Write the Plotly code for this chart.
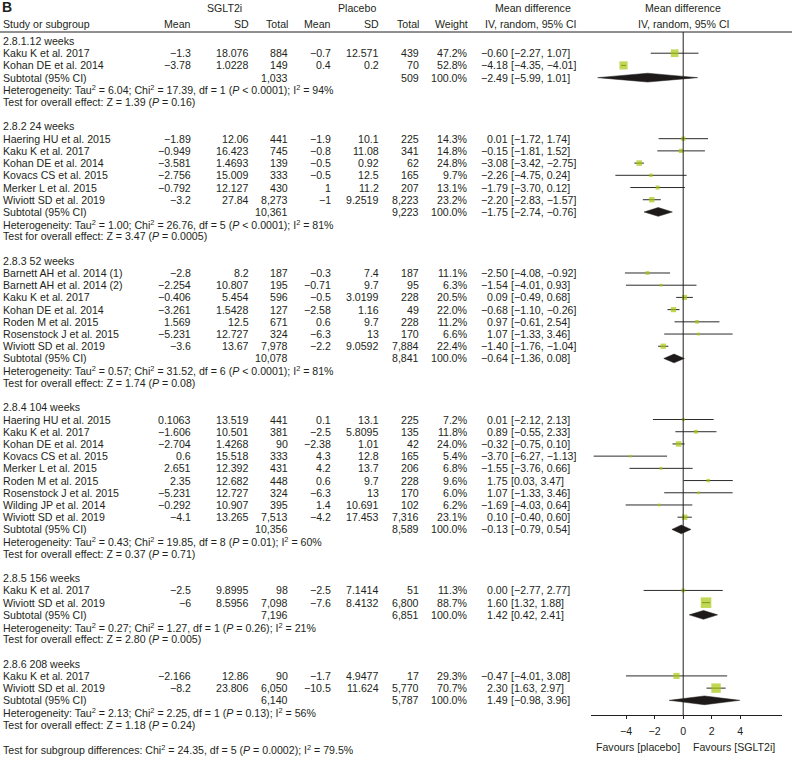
import plotly.graph_objects as go

# forest plot: SGLT2i vs placebo, mean difference by follow-up
groups = ['2.8.1.12 weeks', '2.8.2 24 weeks', '2.8.3 52 weeks',
          '2.8.4 104 weeks', '2.8.5 156 weeks', '2.8.6 208 weeks']

grp = [0, 0,
       1, 1, 1, 1, 1, 1,
       2, 2, 2, 2, 2, 2, 2,
       3, 3, 3, 3, 3, 3, 3, 3, 3,
       4, 4,
       5, 5]
study = ['Kaku K et al. 2017', 'Kohan DE et al. 2014',
         'Haering HU et al. 2015', 'Kaku K et al. 2017', 'Kohan DE et al. 2014',
         'Kovacs CS et al. 2015', 'Merker L et al. 2015', 'Wiviott SD et al. 2019',
         'Barnett AH et al. 2014 (1)', 'Barnett AH et al. 2014 (2)', 'Kaku K et al. 2017',
         'Kohan DE et al. 2014', 'Roden M et al. 2015', 'Rosenstock J et al. 2015',
         'Wiviott SD et al. 2019',
         'Haering HU et al. 2015', 'Kaku K et al. 2017', 'Kohan DE et al. 2014',
         'Kovacs CS et al. 2015', 'Merker L et al. 2015', 'Roden M et al. 2015',
         'Rosenstock J et al. 2015', 'Wilding JP et al. 2014', 'Wiviott SD et al. 2019',
         'Kaku K et al. 2017', 'Wiviott SD et al. 2019',
         'Kaku K et al. 2017', 'Wiviott SD et al. 2019']
mean_sglt = [-1.3, -3.78,
             -1.89, -0.949, -3.581, -2.756, -0.792, -3.2,
             -2.8, -2.254, -0.406, -3.261, 1.569, -5.231, -3.6,
             0.1063, -1.606, -2.704, 0.6, 2.651, 2.35, -5.231, -0.292, -4.1,
             -2.5, -6,
             -2.166, -8.2]
sd_sglt = [18.076, 1.0228,
           12.06, 16.423, 1.4693, 15.009, 12.127, 27.84,
           8.2, 10.807, 5.454, 1.5428, 12.5, 12.727, 13.67,
           13.519, 10.501, 1.4268, 15.518, 12.392, 12.682, 12.727, 10.907, 13.265,
           9.8995, 8.5956,
           12.86, 23.806]
n_sglt = [884, 149,
          441, 745, 139, 333, 430, 8273,
          187, 195, 596, 127, 671, 324, 7978,
          441, 381, 90, 333, 431, 448, 324, 395, 7513,
          98, 7098,
          90, 6050]
mean_plac = [-0.7, 0.4,
             -1.9, -0.8, -0.5, -0.5, 1, -1,
             -0.3, -0.71, -0.5, -2.58, 0.6, -6.3, -2.2,
             0.1, -2.5, -2.38, 4.3, 4.2, 0.6, -6.3, 1.4, -4.2,
             -2.5, -7.6,
             -1.7, -10.5]
sd_plac = [12.571, 0.2,
           10.1, 11.08, 0.92, 12.5, 11.2, 9.2519,
           7.4, 9.7, 3.0199, 1.16, 9.7, 13, 9.0592,
           13.1, 5.8095, 1.01, 12.8, 13.7, 9.7, 13, 10.691, 17.453,
           7.1414, 8.4132,
           4.9477, 11.624]
n_plac = [439, 70,
          225, 341, 62, 165, 207, 8223,
          187, 95, 228, 49, 228, 170, 7884,
          225, 135, 42, 165, 206, 228, 170, 102, 7316,
          51, 6800,
          17, 5770]
weight = [47.2, 52.8,
          14.3, 14.8, 24.8, 9.7, 13.1, 23.2,
          11.1, 6.3, 20.5, 22.0, 11.2, 6.6, 22.4,
          7.2, 11.8, 24.0, 5.4, 6.8, 9.6, 6.0, 6.2, 23.1,
          11.3, 88.7,
          29.3, 70.7]
md = [-0.60, -4.18,
      0.01, -0.15, -3.08, -2.26, -1.79, -2.20,
      -2.50, -1.54, 0.09, -0.68, 0.97, 1.07, -1.40,
      0.01, 0.89, -0.32, -3.70, -1.55, 1.75, 1.07, -1.69, 0.10,
      0.00, 1.60,
      -0.47, 2.30]
ci_lo = [-2.27, -4.35,
         -1.72, -1.81, -3.42, -4.75, -3.70, -2.83,
         -4.08, -4.01, -0.49, -1.10, -0.61, -1.33, -1.76,
         -2.12, -0.55, -0.75, -6.27, -3.76, 0.03, -1.33, -4.03, -0.40,
         -2.77, 1.32,
         -4.01, 1.63]
ci_hi = [1.07, -4.01,
         1.74, 1.52, -2.75, 0.24, 0.12, -1.57,
         -0.92, 0.93, 0.68, -0.26, 2.54, 3.46, -1.04,
         2.13, 2.33, 0.10, -1.13, 0.66, 3.47, 3.46, 0.64, 0.60,
         2.77, 1.88,
         3.08, 2.97]

sub_n_sglt = [1033, 10361, 10078, 10356, 7196, 6140]
sub_n_plac = [509, 9223, 8841, 8589, 6851, 5787]
sub_md = [-2.49, -1.75, -0.64, -0.13, 1.42, 1.49]
sub_lo = [-5.99, -2.74, -1.36, -0.79, 0.42, -0.98]
sub_hi = [1.01, -0.76, 0.08, 0.54, 2.41, 3.96]
tau2 = ['6.04', '1.00', '0.57', '0.43', '0.27', '2.13']
chi2 = ['17.39', '26.76', '31.52', '19.85', '1.27', '2.25']
het_df = [1, 5, 6, 8, 1, 1]
het_p = ['&lt; 0.0001', '&lt; 0.0001', '&lt; 0.0001', '= 0.01', '= 0.26', '= 0.13']
i2 = [94, 81, 81, 60, 21, 56]
z_val = ['1.39', '3.47', '1.74', '0.37', '2.80', '1.18']
z_p = ['0.16', '0.0005', '0.08', '0.71', '0.005', '0.24']

x_ticks = [-4, -2, 0, 2, 4]

W, H = 792, 759
ROW0, PITCH = 41, 12.21          # pixel centre of first row, row spacing
X0, XSCALE = 683.2, 14.28         # pixel of zero, px per unit
AX_L, AX_R, AX_Y = 591, 782, 715  # x-axis line
FONT = 'Liberation Sans, Arial, sans-serif'
FS = 10.6
TXT = '#231f20'
GREEN = '#a6c80c'


def py(px):
    return (px - ROW0) / PITCH


def fnum(v):
    return f'{v:g}'.replace('-', '−')


def f2(v):
    return f'{v:.2f}'.replace('-', '−')


ann = []


def txt(s, xpx, row, anchor='left', size=FS, bold=False):
    pad = {'left': -2, 'right': 2, 'center': 0}[anchor]
    if bold:
        s = '<b>' + s + '</b>'
    ann.append(dict(text=s, x=(xpx + pad) / W, xref='paper', y=row, yref='y',
                    xanchor=anchor, yanchor='middle', showarrow=False,
                    font=dict(family=FONT, size=size, color=TXT)))


# columns (pixel positions)
C_STUDY = 3
C_M1, C_SD1, C_N1 = 191, 249, 288
C_M2, C_SD2, C_N2 = 331, 379, 419
C_W, C_MD, C_CI = 468, 508, 511

# header
txt('B', 2, py(7), size=14, bold=True)
txt('SGLT2i', 224, py(8), 'center')
txt('Placebo', 357, py(8), 'center')
txt('Mean difference', 533, py(8), 'center')
txt('Mean difference', 683, py(8), 'center')
txt('Study or subgroup', C_STUDY, py(23.5))
for s, c in [('Mean', C_M1), ('SD', C_SD1), ('Total', C_N1), ('Mean', C_M2),
             ('SD', C_SD2), ('Total', C_N2), ('Weight', C_W)]:
    txt(s, c, py(23.5), 'right')
txt('IV, random, 95% CI', 530, py(23.5), 'center')
txt('IV, random, 95% CI', 683, py(23.5), 'center')

# rows
wx, wy, sx, sy, ss = [], [], [], [], []
dx, dy = [], []
r = 0
for g, name in enumerate(groups):
    txt(name, C_STUDY, r)
    r += 1
    for i in [k for k in range(len(study)) if grp[k] == g]:
        txt(study[i], C_STUDY, r)
        txt(fnum(mean_sglt[i]), C_M1, r, 'right')
        txt(fnum(sd_sglt[i]), C_SD1, r, 'right')
        txt(f'{n_sglt[i]:,}', C_N1, r, 'right')
        txt(fnum(mean_plac[i]), C_M2, r, 'right')
        txt(fnum(sd_plac[i]), C_SD2, r, 'right')
        txt(f'{n_plac[i]:,}', C_N2, r, 'right')
        txt(f'{weight[i]:.1f}%', C_W, r, 'right')
        txt(f2(md[i]), C_MD, r, 'right')
        txt(f'[{f2(ci_lo[i])}, {f2(ci_hi[i])}]', C_CI, r)
        wx += [ci_lo[i], ci_hi[i], None]
        wy += [r, r, None]
        sx.append(md[i])
        sy.append(r)
        ss.append(max(2.2, 1.12 * weight[i] ** 0.5))
        r += 1
    txt('Subtotal (95% CI)', C_STUDY, r)
    txt(f'{sub_n_sglt[g]:,}', C_N1, r, 'right')
    txt(f'{sub_n_plac[g]:,}', C_N2, r, 'right')
    txt('100.0%', C_W, r, 'right')
    txt(f2(sub_md[g]), C_MD, r, 'right')
    txt(f'[{f2(sub_lo[g])}, {f2(sub_hi[g])}]', C_CI, r)
    h = 4.4 / PITCH
    dx += [sub_lo[g], sub_md[g], sub_hi[g], sub_md[g], sub_lo[g], None]
    dy += [r, r - h, r, r + h, r, None]
    r += 1
    txt(f'Heterogeneity: Tau<sup>2</sup> = {tau2[g]}; Chi<sup>2</sup> = {chi2[g]}, '
        f'df = {het_df[g]} (<i>P</i> {het_p[g]}); I<sup>2</sup> = {i2[g]}%', C_STUDY, r)
    r += 1
    txt(f'Test for overall effect: Z = {z_val[g]} (<i>P</i> = {z_p[g]})', C_STUDY, r)
    r += 2

txt('Test for subgroup differences: Chi<sup>2</sup> = 24.35, df = 5 '
    '(<i>P</i> = 0.0002); I<sup>2</sup> = 79.5%', C_STUDY, r)

txt('Favours [placebo]', 680, py(747), 'right')
txt('Favours [SGLT2i]', 693, py(747), 'left')

fig = go.Figure()
fig.add_trace(go.Scatter(x=wx, y=wy, mode='lines', line=dict(color='#2b2b2b', width=1),
                         hoverinfo='skip'))
fig.add_trace(go.Scatter(x=sx, y=sy, mode='markers',
                         marker=dict(symbol='square', size=ss, color=GREEN,
                                     line=dict(width=0))))
fig.add_trace(go.Scatter(x=dx, y=dy, mode='lines', fill='toself', fillcolor='#1e1a1a',
                         line=dict(color='#1e1a1a', width=0.5), hoverinfo='skip'))

# zero line and header rule
fig.add_shape(type='line', xref='x', yref='paper', x0=0, x1=0,
              y0=1 - AX_Y / H, y1=1 - 32 / H, line=dict(color=TXT, width=1))
fig.add_shape(type='line', xref='paper', yref='paper', x0=0, x1=1,
              y0=1 - 32 / H, y1=1 - 32 / H, line=dict(color=TXT, width=1))

fig.update_layout(
    width=W, height=H,
    margin=dict(l=0, r=0, t=0, b=0),
    paper_bgcolor='white', plot_bgcolor='white',
    showlegend=False,
    annotations=ann,
    xaxis=dict(domain=[AX_L / W, AX_R / W],
               range=[(AX_L - X0) / XSCALE, (AX_R - X0) / XSCALE],
               anchor='free', position=1 - AX_Y / H,
               showline=True, linecolor=TXT, linewidth=1,
               ticks='outside', ticklen=3, tickcolor=TXT,
               tickvals=x_ticks, ticktext=[fnum(v) for v in x_ticks],
               tickfont=dict(family=FONT, size=FS, color=TXT),
               ticklabelstandoff=3,
               showgrid=False, zeroline=False, fixedrange=True),
    yaxis=dict(domain=[0, 1], range=[py(H), py(0)], visible=False, fixedrange=True),
)

# the page body has a default 8px margin; drop it so the chart sits at (0, 0)
fig.write_html('out.html', config={'displayModeBar': False},
               post_script="document.body.style.margin='0';")
